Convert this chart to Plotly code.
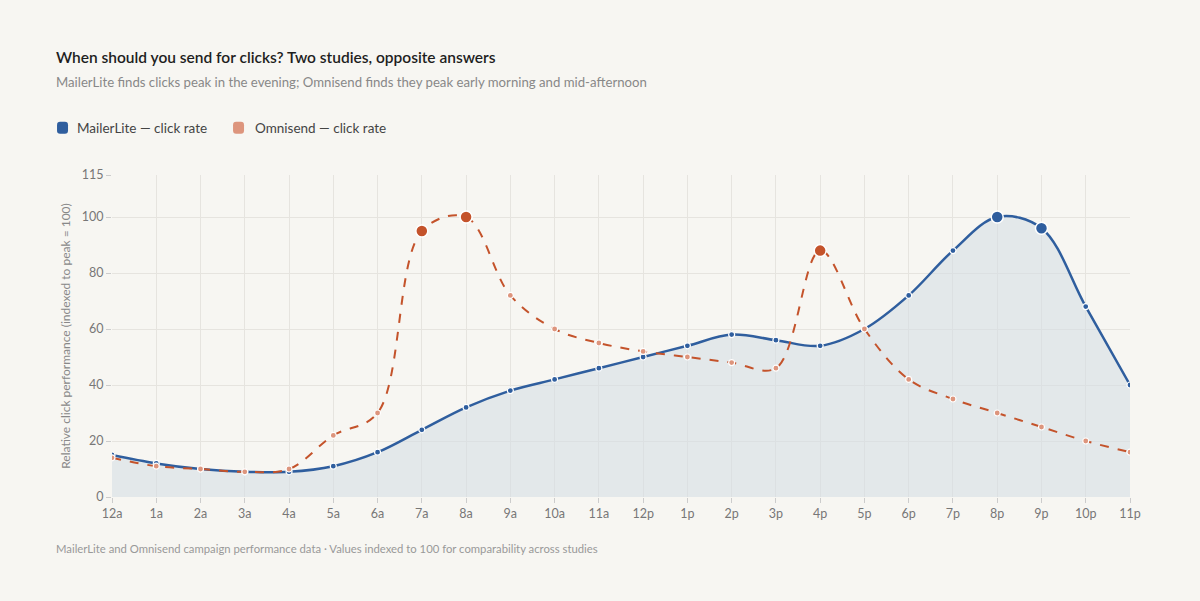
import plotly.graph_objects as go

# Hour-of-day categories
hours = ["12a", "1a", "2a", "3a", "4a", "5a", "6a", "7a", "8a", "9a", "10a", "11a",
         "12p", "1p", "2p", "3p", "4p", "5p", "6p", "7p", "8p", "9p", "10p", "11p"]

# Relative click performance (indexed to peak = 100)
mailerlite = [15, 12, 10, 9, 9, 11, 16, 24, 32, 38, 42, 46,
              50, 54, 58, 56, 54, 60, 72, 88, 100, 96, 68, 40]
omnisend = [14, 11, 10, 9, 10, 22, 30, 95, 100, 72, 60, 55,
            52, 50, 48, 46, 88, 60, 42, 35, 30, 25, 20, 16]

# Peak hours that get a highlighted marker
mailerlite_peaks = ["8p", "9p"]
omnisend_peaks = ["7a", "8a", "4p"]

series_names = ["MailerLite — click rate", "Omnisend — click rate"]

BLUE = "#2f5e9e"
ORANGE = "#c4532b"
ORANGE_LIGHT = "#dd957d"
GRID = "#e6e4df"
BG = "#f7f6f2"
FONT = "Lato, 'Open Sans', sans-serif"

x_idx = list(range(len(hours)))


def peak_points(values, peaks):
    xs, ys = [], []
    for i, h in enumerate(hours):
        if h in peaks:
            xs.append(i)
            ys.append(values[i])
    return xs, ys


def swatch(x0, color):
    # small rounded square in paper coords, used for the legend
    w, h, r = 0.0108, 0.037, 0.003
    y0, y1 = 1.128, 1.128 + h
    x1 = x0 + w
    ry = r * 3.4
    path = (f"M {x0 + r},{y0} L {x1 - r},{y0} Q {x1},{y0} {x1},{y0 + ry} "
            f"L {x1},{y1 - ry} Q {x1},{y1} {x1 - r},{y1} L {x0 + r},{y1} "
            f"Q {x0},{y1} {x0},{y1 - ry} L {x0},{y0 + ry} Q {x0},{y0} {x0 + r},{y0} Z")
    return {"type": "path", "path": path, "xref": "paper", "yref": "paper",
            "fillcolor": color, "line": {"width": 0}}


fig = go.Figure()

# MailerLite: filled area + solid spline
fig.add_trace(go.Scatter(
    x=x_idx, y=mailerlite, mode="lines+markers", name=series_names[0],
    line={"color": BLUE, "width": 2.5, "shape": "spline", "smoothing": 1.0},
    fill="tozeroy", fillcolor="rgba(212,220,228,0.55)",
    marker={"size": 6, "color": BLUE, "line": {"color": "white", "width": 1.2}},
    hoverinfo="skip",
))

# Omnisend: dashed spline
fig.add_trace(go.Scatter(
    x=x_idx, y=omnisend, mode="lines+markers", name=series_names[1],
    line={"color": ORANGE, "width": 2, "dash": "dash", "shape": "spline", "smoothing": 1.0},
    marker={"size": 6, "color": ORANGE_LIGHT, "line": {"color": "white", "width": 1.2}},
    hoverinfo="skip",
))

# Highlighted peaks
px, py = peak_points(mailerlite, mailerlite_peaks)
fig.add_trace(go.Scatter(
    x=px, y=py, mode="markers",
    marker={"size": 12, "color": BLUE, "line": {"color": "white", "width": 1.5}},
    hoverinfo="skip",
))
px, py = peak_points(omnisend, omnisend_peaks)
fig.add_trace(go.Scatter(
    x=px, y=py, mode="markers",
    marker={"size": 12, "color": ORANGE, "line": {"color": "white", "width": 1.5}},
    hoverinfo="skip",
))

fig.update_layout(
    width=1200, height=601,
    margin={"l": 112, "r": 70, "t": 175, "b": 104},
    paper_bgcolor=BG, plot_bgcolor=BG,
    font={"family": FONT, "color": "#777", "size": 12},
    showlegend=False,
    xaxis={
        "range": [0, 23], "tickmode": "array", "tickvals": x_idx, "ticktext": hours,
        "showgrid": True, "gridcolor": GRID, "gridwidth": 1, "zeroline": False,
        "ticks": "outside", "ticklen": 5, "tickcolor": "#ccc",
        "showline": False, "tickfont": {"size": 12.5, "color": "#777"},
    },
    yaxis={
        "range": [0, 115], "tickvals": [0, 20, 40, 60, 80, 100, 115],
        "showgrid": True, "gridcolor": GRID, "gridwidth": 1, "zeroline": False,
        "ticks": "outside", "ticklen": 5, "tickcolor": "#ccc",
        "tickfont": {"size": 12.5, "color": "#777"},
        "title": {"text": "Relative click performance (indexed to peak = 100)",
                  "font": {"size": 12, "color": "#888"}, "standoff": 8},
    },
    shapes=[swatch(-0.054, BLUE), swatch(0.1189, ORANGE_LIGHT)],
    annotations=[
        {"text": "When should you send for clicks? Two studies, opposite answers",
         "xref": "paper", "yref": "paper", "x": -0.057, "y": 1.367,
         "xanchor": "left", "yanchor": "middle", "showarrow": False,
         "font": {"size": 15.5, "color": "#1e1e1e", "family": FONT, "weight": 600}},
        {"text": "MailerLite finds clicks peak in the evening; Omnisend finds they peak early morning and mid-afternoon",
         "xref": "paper", "yref": "paper", "x": -0.057, "y": 1.29,
         "xanchor": "left", "yanchor": "middle", "showarrow": False,
         "font": {"size": 13.2, "color": "#888", "family": FONT}},
        {"text": series_names[0],
         "xref": "paper", "yref": "paper", "x": -0.0363, "y": 1.146,
         "xanchor": "left", "yanchor": "middle", "showarrow": False,
         "font": {"size": 13.5, "color": "#444", "family": FONT}},
        {"text": series_names[1],
         "xref": "paper", "yref": "paper", "x": 0.1385, "y": 1.146,
         "xanchor": "left", "yanchor": "middle", "showarrow": False,
         "font": {"size": 13.5, "color": "#444", "family": FONT}},
        {"text": "MailerLite and Omnisend campaign performance data · Values indexed to 100 for comparability across studies",
         "xref": "paper", "yref": "paper", "x": -0.057, "y": -0.16,
         "xanchor": "left", "yanchor": "middle", "showarrow": False,
         "font": {"size": 11.3, "color": "#999", "family": FONT}},
    ],
)

fig.write_html(
    "out.html",
    config={"displayModeBar": False},
    post_script=f"document.body.style.margin='0';document.body.style.background='{BG}';",
)
